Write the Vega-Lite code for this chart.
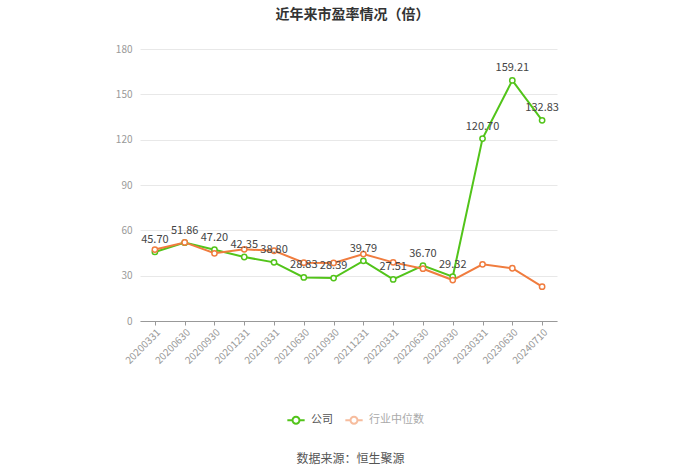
{
  "$schema": "https://vega.github.io/schema/vega-lite/v6.json",
  "autosize": "none",
  "width": 417,
  "height": 272,
  "padding": {"left": 140, "top": 49, "right": 143, "bottom": 153},
  "background": "white",
  "config": {
    "font": "Noto Sans CJK SC",
    "view": {"stroke": null}
  },
  "title": {
    "text": "近年来市盈率情况（倍）",
    "anchor": "middle",
    "fontSize": 14,
    "fontWeight": "bold",
    "color": "#333333",
    "offset": 22,
    "dx": 4
  },
  "data": {
    "values": [
      {"date": "20200331", "series": "公司", "value": 45.70},
      {"date": "20200630", "series": "公司", "value": 51.86},
      {"date": "20200930", "series": "公司", "value": 47.20},
      {"date": "20201231", "series": "公司", "value": 42.35},
      {"date": "20210331", "series": "公司", "value": 38.80},
      {"date": "20210630", "series": "公司", "value": 28.83},
      {"date": "20210930", "series": "公司", "value": 28.39},
      {"date": "20211231", "series": "公司", "value": 39.79},
      {"date": "20220331", "series": "公司", "value": 27.51},
      {"date": "20220630", "series": "公司", "value": 36.70},
      {"date": "20220930", "series": "公司", "value": 29.32},
      {"date": "20230331", "series": "公司", "value": 120.70},
      {"date": "20230630", "series": "公司", "value": 159.21},
      {"date": "20240710", "series": "公司", "value": 132.83},
      {"date": "20200331", "series": "行业中位数", "value": 47.3},
      {"date": "20200630", "series": "行业中位数", "value": 52.0},
      {"date": "20200930", "series": "行业中位数", "value": 44.8},
      {"date": "20201231", "series": "行业中位数", "value": 47.4},
      {"date": "20210331", "series": "行业中位数", "value": 46.5},
      {"date": "20210630", "series": "行业中位数", "value": 38.6},
      {"date": "20210930", "series": "行业中位数", "value": 38.4},
      {"date": "20211231", "series": "行业中位数", "value": 44.3},
      {"date": "20220331", "series": "行业中位数", "value": 38.8},
      {"date": "20220630", "series": "行业中位数", "value": 34.6},
      {"date": "20220930", "series": "行业中位数", "value": 27.1},
      {"date": "20230331", "series": "行业中位数", "value": 37.5},
      {"date": "20230630", "series": "行业中位数", "value": 34.9},
      {"date": "20240710", "series": "行业中位数", "value": 22.7}
    ]
  },
  "encoding": {
    "x": {
      "field": "date",
      "type": "ordinal",
      "sort": null,
      "scale": {"type": "point", "padding": 0.5},
      "axis": {
        "title": "数据来源：恒生聚源",
        "titleFontSize": 12,
        "titleFontWeight": "normal",
        "titleColor": "#555555",
        "titleY": 137,
        "titleBaseline": "middle",
        "titleX": 210,
        "labelAngle": -45,
        "labelAlign": "right",
        "labelBaseline": "top",
        "labelFontSize": 10,
        "labelColor": "#999999",
        "labelPadding": 2,
        "domainColor": "#999999",
        "tickColor": "#999999",
        "tickSize": 4,
        "grid": false
      }
    },
    "y": {
      "field": "value",
      "type": "quantitative",
      "scale": {"domain": [0, 180]},
      "axis": {
        "title": null,
        "values": [0, 30, 60, 90, 120, 150, 180],
        "labelFontSize": 10,
        "labelColor": "#999999",
        "labelPadding": 8,
        "domain": false,
        "ticks": false,
        "gridColor": "#e8e8e8",
        "gridWidth": 1
      }
    }
  },
  "layer": [
    {
      "mark": {
        "type": "line",
        "strokeWidth": 2,
        "point": {"filled": false, "fill": "white", "size": 28, "strokeWidth": 1.5}
      },
      "encoding": {
        "color": {
          "field": "series",
          "type": "nominal",
          "sort": ["公司", "行业中位数"],
          "scale": {"domain": ["公司", "行业中位数"], "range": ["#52c41a", "#f07c3e"]},
          "legend": {
            "title": null,
            "orient": "none",
            "legendX": 146,
            "legendY": 361,
            "direction": "horizontal",
            "labelFontSize": 11,
            "labelColor": "#666666",
            "symbolType": "M-1,0L-0.4,0M0.4,0L1,0M0.4,0A0.4,0.4 0 1 1 -0.4,0A0.4,0.4 0 1 1 0.4,0",
            "symbolSize": 300,
            "symbolStrokeWidth": 2,
            "symbolFillColor": "white",
            "columnPadding": 8,
            "labelOffset": 5,
            "encode": {
              "symbols": {"update": {"opacity": {"signal": "datum.value === '行业中位数' ? 0.5 : 1"}}},
              "labels": {"update": {"fill": {"signal": "datum.value === '行业中位数' ? '#aaaaaa' : '#555555'"}}}
            }
          }
        }
      }
    },
    {
      "transform": [{"filter": "datum.series === '公司'"}],
      "mark": {"type": "text", "dy": -12, "fontSize": 11, "color": "#444444"},
      "encoding": {
        "text": {"field": "value", "type": "quantitative", "format": ".2f"}
      }
    }
  ]
}
